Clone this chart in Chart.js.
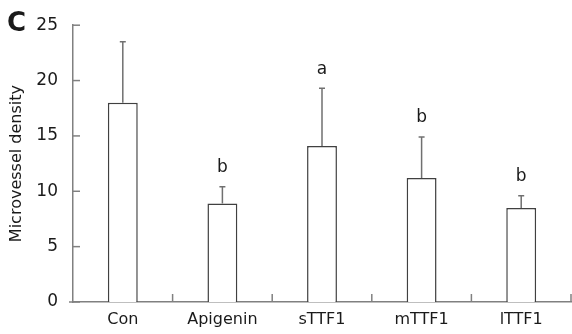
<!DOCTYPE html>
<html>
<head>
    <title>Microvessel density</title>
    <style>
        body { margin: 0; background: #fff; }
        #wrap { width: 572px; height: 334px; }
    </style>
</head>
<body>
    <div id="wrap"><canvas id="barChart" width="572" height="334"></canvas></div>
    <script src="https://cdn.jsdelivr.net/npm/chart.js"></script>
    <script>
        const groups = ['Con', 'Apigenin', 'sTTF1', 'mTTF1', 'lTTF1'];
        const means = [18.0, 8.9, 14.1, 11.2, 8.5];
        const errorTops = [23.5, 10.4, 19.3, 14.9, 9.6];
        const letters = ['', 'b', 'a', 'b', 'b'];
        const yTicks = [0, 5, 10, 15, 20, 25];

        const font = 'DejaVu Sans';
        const axisColor = '#808080';

        const extras = {
            id: 'extras',
            afterDatasetsDraw(chart) {
                const ctx = chart.ctx;
                const x = chart.scales.x;
                const y = chart.scales.y;
                const area = chart.chartArea;
                ctx.save();

                // inward ticks
                ctx.strokeStyle = axisColor;
                ctx.lineWidth = 1.5;
                yTicks.forEach(v => {
                    const py = y.getPixelForValue(v);
                    ctx.beginPath();
                    ctx.moveTo(area.left, py);
                    ctx.lineTo(area.left + 7, py);
                    ctx.stroke();
                });
                const step = x.getPixelForValue(1) - x.getPixelForValue(0);
                groups.forEach((g, i) => {
                    const px = x.getPixelForValue(i) + step / 2;
                    ctx.beginPath();
                    ctx.moveTo(px, area.bottom);
                    ctx.lineTo(px, area.bottom - 8);
                    ctx.stroke();
                });
                ctx.beginPath();
                ctx.moveTo(area.left - 4, area.bottom);
                ctx.lineTo(area.left, area.bottom);
                ctx.stroke();

                // error bars (upper only)
                ctx.strokeStyle = '#707070';
                ctx.lineWidth = 1.5;
                means.forEach((m, i) => {
                    const px = x.getPixelForValue(i);
                    const top = y.getPixelForValue(errorTops[i]);
                    ctx.beginPath();
                    ctx.moveTo(px, y.getPixelForValue(m));
                    ctx.lineTo(px, top);
                    ctx.moveTo(px - 3, top);
                    ctx.lineTo(px + 3, top);
                    ctx.stroke();
                });

                // significance letters
                ctx.fillStyle = '#1a1a1a';
                ctx.font = '17px "' + font + '"';
                ctx.textAlign = 'center';
                ctx.textBaseline = 'middle';
                letters.forEach((l, i) => {
                    if (!l) return;
                    ctx.fillText(l, x.getPixelForValue(i), y.getPixelForValue(errorTops[i]) - 19);
                });

                // panel letter
                ctx.font = 'bold 26px "' + font + '"';
                ctx.textAlign = 'left';
                ctx.fillText('C', 7, 24);
                ctx.restore();
            }
        };

        new Chart(document.getElementById('barChart'), {
            type: 'bar',
            data: {
                labels: groups,
                datasets: [{
                    data: means,
                    backgroundColor: '#ffffff',
                    borderColor: '#404040',
                    borderWidth: 1.5,
                    categoryPercentage: 1,
                    barPercentage: 0.3
                }]
            },
            options: {
                responsive: false,
                animation: false,
                layout: { padding: { top: 22, right: 1, left: 0, bottom: 0 } },
                plugins: {
                    legend: { display: false },
                    tooltip: { enabled: false }
                },
                scales: {
                    x: {
                        grid: { display: false, drawTicks: false },
                        border: { color: axisColor, width: 1.5 },
                        ticks: { color: '#1a1a1a', padding: 8, font: { family: font, size: 16 } },
                        afterFit: s => { s.height = 32; }
                    },
                    y: {
                        min: 0,
                        max: 25,
                        grid: { display: false, drawTicks: false },
                        border: { color: axisColor, width: 1.5 },
                        ticks: { stepSize: 5, color: '#1a1a1a', padding: 15, font: { family: font, size: 17 } },
                        title: {
                            display: true,
                            text: 'Microvessel density',
                            color: '#1a1a1a',
                            padding: { top: 7, bottom: 0 },
                            font: { family: font, size: 16 }
                        },
                        afterFit: s => { s.width = 73; }
                    }
                }
            },
            plugins: [extras]
        });
    </script>
</body>
</html>
